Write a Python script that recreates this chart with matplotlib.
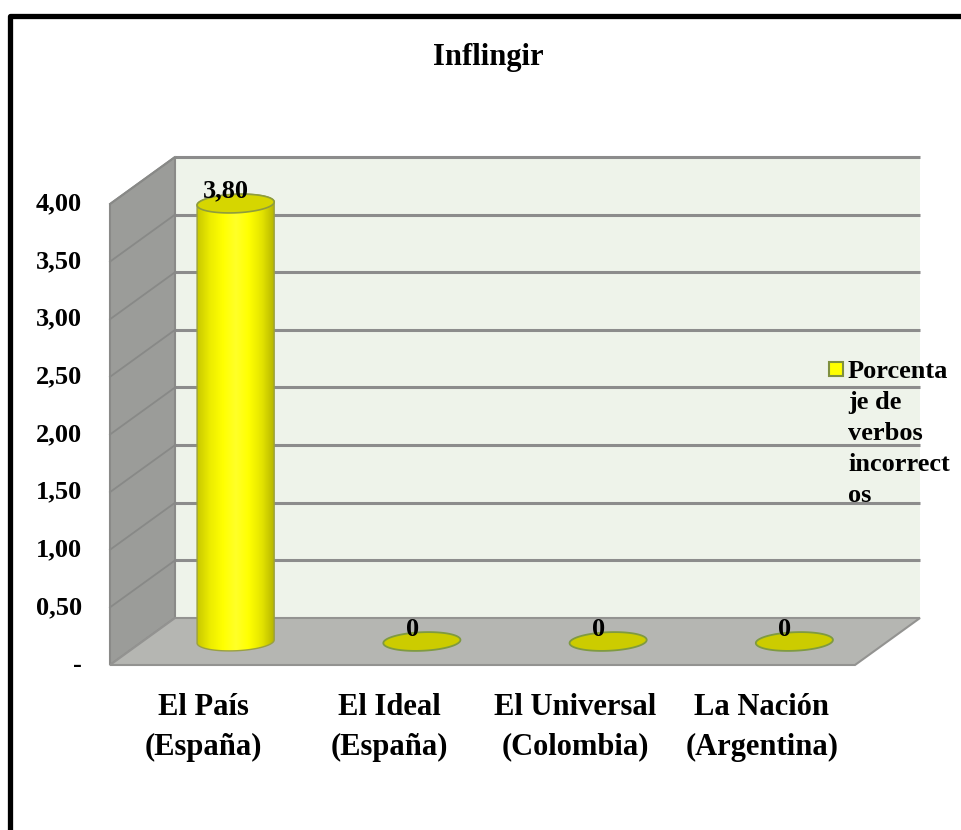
import numpy as np
import matplotlib.pyplot as plt
from matplotlib.patches import Polygon, Rectangle
from matplotlib.colors import LinearSegmentedColormap
import matplotlib.transforms as mtransforms

plt.rcParams['font.family'] = ['Liberation Serif', 'DejaVu Serif']
plt.rcParams['font.weight'] = 'bold'

# datos
titulo = 'Inflingir'
categorias = ['El País\n(España)', 'El Ideal\n(España)', 'El Universal\n(Colombia)', 'La Nación\n(Argentina)']
valores = [3.80, 0, 0, 0]
etiquetas = ['3,80', '0', '0', '0']
ticks = [0, 0.5, 1.0, 1.5, 2.0, 2.5, 3.0, 3.5, 4.0]
tick_labels = ['-', '0,50', '1,00', '1,50', '2,00', '2,50', '3,00', '3,50', '4,00']
serie = 'Porcenta\nje de\nverbos\nincorrect\nos'

# profundidad 3D (desplazamiento de la cara frontal, en unidades de datos)
DX = -65 / 186.25
DY = -47 / 115.25
A = 38 / 186.25      # radio del cilindro en x
RD = 0.2             # radio en profundidad (fraccion)

fig = plt.figure(figsize=(9.62, 8.3), dpi=100)
ax = fig.add_axes([175 / 962, 212 / 830, 745 / 962, 461 / 830])
ax.set_xlim(0, 4)
ax.set_ylim(0, 4)
ax.axis('off')

n = len(categorias)
ymax = ticks[-1]
grid_c = '#8c8c8c'

# pared del fondo
ax.add_patch(Polygon([(0, 0), (n, 0), (n, ymax), (0, ymax)], closed=True,
                     facecolor='#eef3ea', edgecolor='none', clip_on=False, zorder=1))
for v in ticks[1:]:
    ax.plot([0, n], [v, v], color=grid_c, lw=2.2, clip_on=False, zorder=2, solid_capstyle='butt')

# pared izquierda
ax.add_patch(Polygon([(0, 0), (0, ymax), (DX, ymax + DY), (DX, DY)], closed=True,
                     facecolor='#9b9c99', edgecolor='#8a8a88', lw=1.5, clip_on=False, zorder=3))
for v in ticks[1:]:
    ax.plot([0, DX], [v, v + DY], color='#888987', lw=1.3, clip_on=False, zorder=4)

# suelo
ax.add_patch(Polygon([(0, 0), (n, 0), (n + DX, DY), (DX, DY)], closed=True,
                     facecolor='#b5b6b2', edgecolor='#939391', lw=1.5, clip_on=False, zorder=5))

cmap = LinearSegmentedColormap.from_list('cil', ['#c8c800', '#ecec00', '#ffff00', '#ffff28',
                                                 '#ffff00', '#e4e400', '#b4b400'])
t = np.linspace(0, 2 * np.pi, 721)[:-1]


def elipse(cx, y0):
    w = RD * np.sin(t)
    return cx + A * np.cos(t) + 0.5 * w * DX, y0 + w * DY


for i, (v, lab) in enumerate(zip(valores, etiquetas)):
    cx = i + 0.5 + 0.5 * DX
    base = 0.5 * DY
    top = v + base
    ex, ey = elipse(cx, base)
    if v > 0:
        tx, ty = elipse(cx, top)
        ir, il = int(np.argmax(ex)), int(np.argmin(ex))
        lower = [(k % len(t)) for k in range(ir, il + 1 if il > ir else il + len(t) + 1)]
        upper = [(k % len(t)) for k in range(il, ir + len(t) + 1 if ir < il else ir + 1)]
        pts = [(ex[k], ey[k]) for k in lower] + [(tx[k], ty[k]) for k in upper]
        body = Polygon(pts, closed=True, facecolor='none', edgecolor='#9aa040', lw=1.0,
                       clip_on=False, zorder=8)
        ax.add_patch(body)
        grad = np.linspace(0, 1, 256).reshape(1, -1)
        im = ax.imshow(grad, cmap=cmap, aspect='auto', zorder=7,
                       extent=[ex.min(), ex.max(), ey.min(), ty.max()])
        im.set_clip_box(fig.bbox)
        im.set_clip_path(body)
        ax.add_patch(Polygon(np.column_stack([tx, ty]), closed=True, facecolor='#d6d600',
                             edgecolor='#8e9c3e', lw=1.2, clip_on=False, zorder=9))
        ly = top
    else:
        ax.add_patch(Polygon(np.column_stack([ex, ey]), closed=True, facecolor='#cccc00',
                             edgecolor='#7f9a40', lw=1.3, clip_on=False, zorder=7))
        ly = base
    ax.annotate(lab, (cx, ly), xytext=(-7, 9), textcoords='offset points',
                ha='center', va='center', fontsize=19, fontweight='bold', zorder=10,
                annotation_clip=False)

# etiquetas del eje y (en la arista frontal)
off_y = mtransforms.offset_copy(ax.transData, fig=fig, x=-28, y=0, units='dots')
for v, lab in zip(ticks, tick_labels):
    ax.text(DX, v + DY, lab, transform=off_y, ha='right', va='center',
            fontsize=19, fontweight='bold', clip_on=False)

# etiquetas de categorias
off_x = mtransforms.offset_copy(ax.transData, fig=fig, x=0, y=-28, units='dots')
for i, c in enumerate(categorias):
    ax.text(i + 0.5 + DX, DY, c, transform=off_x, ha='center', va='top',
            fontsize=22, fontweight='bold', linespacing=1.48, clip_on=False)

# titulo
fig.text(488 / 962, 1 - 58 / 830, titulo, ha='center', va='center', fontsize=22, fontweight='bold')

# leyenda
fig.patches.append(Rectangle((829 / 962, 1 - 376 / 830), 14 / 962, 14 / 830,
                             transform=fig.transFigure, facecolor='#ffff00',
                             edgecolor='#7f9040', lw=1.5))
fig.text(848 / 962, 1 - 360 / 830, serie, ha='left', va='top', fontsize=19,
         fontweight='bold', linespacing=1.45)

# marco
fig.patches.append(Rectangle((9.5 / 962, -0.2), 1.5, (830 - 16.5) / 830 + 0.2,
                             transform=fig.transFigure, facecolor='none',
                             edgecolor='black', lw=3.8, joinstyle='round'))

fig.savefig('out.png', dpi=100)
